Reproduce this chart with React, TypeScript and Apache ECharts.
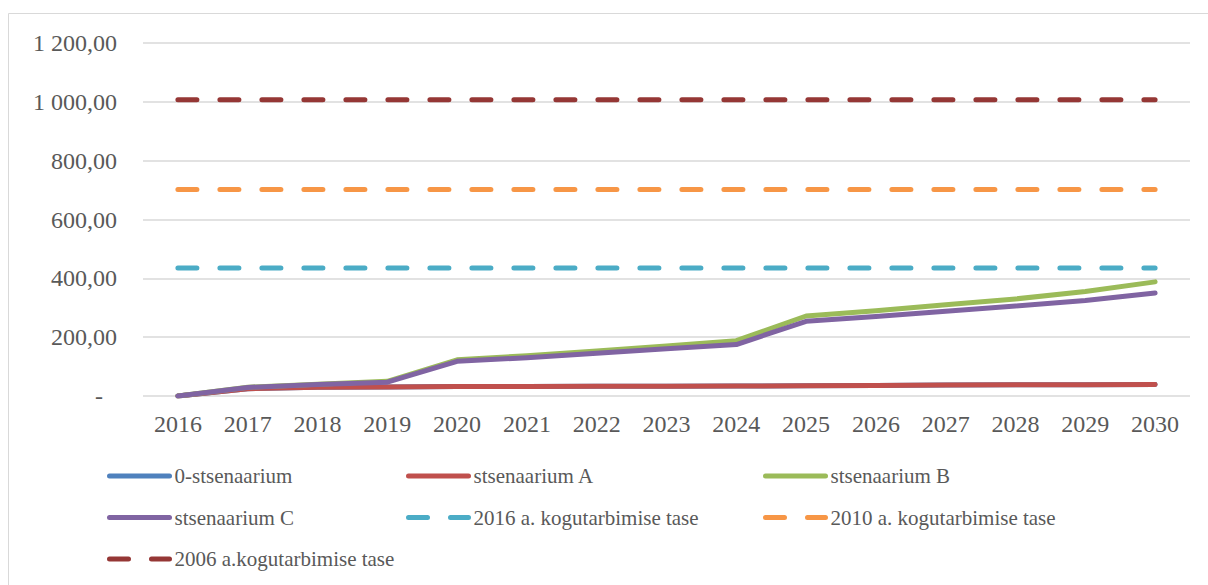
import React, { useEffect, useRef } from "react";
import * as echarts from "echarts";

const years = ["2016","2017","2018","2019","2020","2021","2022","2023","2024","2025","2026","2027","2028","2029","2030"];
const zeroScenario = [0, 25, 30, 31, 32, 32, 33, 33, 34, 35, 36, 37, 38, 38, 39];
const scenarioA = [0, 25, 30, 31, 32, 32, 33, 33, 34, 35, 36, 37, 38, 38, 39];
const scenarioB = [0, 30, 40, 50, 123, 137, 153, 170, 188, 272, 290, 310, 330, 355, 388];
const scenarioC = [0, 29, 39, 47, 118, 130, 145, 161, 175, 254, 270, 288, 306, 325, 350];
const level2016 = [435, 435, 435, 435, 435, 435, 435, 435, 435, 435, 435, 435, 435, 435, 435];
const level2010 = [702, 702, 702, 702, 702, 702, 702, 702, 702, 702, 702, 702, 702, 702, 702];
const level2006 = [1007, 1007, 1007, 1007, 1007, 1007, 1007, 1007, 1007, 1007, 1007, 1007, 1007, 1007, 1007];

const names = [
  "0-stsenaarium",
  "stsenaarium A",
  "stsenaarium B",
  "stsenaarium C",
  "2016 a. kogutarbimise tase",
  "2010 a. kogutarbimise tase",
  "2006 a.kogutarbimise tase",
];
const colors = ["#4F81BD", "#C0504D", "#9BBB59", "#8064A2", "#4BACC6", "#F79646", "#953735"];
const dataSets = [zeroScenario, scenarioA, scenarioB, scenarioC, level2016, level2010, level2006];
const dashed = [false, false, false, false, true, true, true];

const fmt = (v: number) => {
  if (v === 0) return "{d|-}";
  const s = v.toFixed(2).replace(".", ",");
  const [i, f] = s.split(",");
  const ii = i.replace(/\B(?=(\d{3})+(?!\d))/g, " ");
  return "{n|" + ii + "," + f + "}";
};

export default function App() {
  const ref = useRef<HTMLDivElement>(null);
  useEffect(() => {
    if (!ref.current) return;
    const chart = echarts.init(ref.current, undefined, { renderer: "svg" });
    const textColor = "#595959";
    const font = "Liberation Serif";
    const legendBase = {
      orient: "vertical" as const,
      top: 465,
      padding: 0,
      itemWidth: 60,
      itemHeight: 8,
      itemGap: 19.5,
      itemStyle: { opacity: 0 },
      textStyle: { color: textColor, fontSize: 21, fontFamily: font, lineHeight: 22 },
      lineStyle: { width: 5, cap: "round" },
    };
    chart.setOption({
      animation: false,
      backgroundColor: "#ffffff",
      textStyle: { fontFamily: font },
      graphic: [
        {
          type: "rect",
          shape: { x: 8.5, y: 13.5, width: 1300, height: 700 },
          style: { fill: "none", stroke: "#d9d9d9", lineWidth: 1 },
          silent: true,
        },
      ],
      grid: { left: 143, right: 18, top: 43, bottom: 189, containLabel: false },
      legend: [
        { ...legendBase, left: 107, data: [names[0], names[3], names[6]] },
        { ...legendBase, left: 406, data: [names[1], names[4]] },
        { ...legendBase, left: 763, data: [names[2], names[5]] },
      ],
      xAxis: {
        type: "category",
        data: years,
        boundaryGap: true,
        axisLine: { show: false },
        axisTick: { show: false },
        axisLabel: { color: textColor, fontSize: 24, fontFamily: font, margin: 16 },
      },
      yAxis: {
        type: "value",
        min: 0,
        max: 1200,
        interval: 200,
        axisLine: { show: false },
        axisTick: { show: false },
        splitLine: { lineStyle: { color: "#d9d9d9", width: 1.5 } },
        axisLabel: {
          color: textColor,
          fontSize: 24,
          fontFamily: font,
          margin: 26,
          formatter: fmt,
          rich: {
            d: { color: textColor, fontSize: 24, fontFamily: font, padding: [0, 14, 0, 0] },
            n: { color: textColor, fontSize: 24, fontFamily: font },
          },
        },
      },
      series: names.map((n, i) => ({
        name: n,
        type: "line",
        data: dataSets[i],
        symbol: "none",
        color: colors[i],
        lineStyle: {
          color: colors[i],
          width: 5,
          type: dashed[i] ? [19, 23] : "solid",
          cap: "round",
          join: "round",
        },
        z: i + 2,
      })),
    });
    return () => chart.dispose();
  }, []);
  return (
    <div
      ref={ref}
      style={{ position: "fixed", left: 0, top: 0, width: 1208, height: 585, background: "#fff" }}
    />
  );
}
